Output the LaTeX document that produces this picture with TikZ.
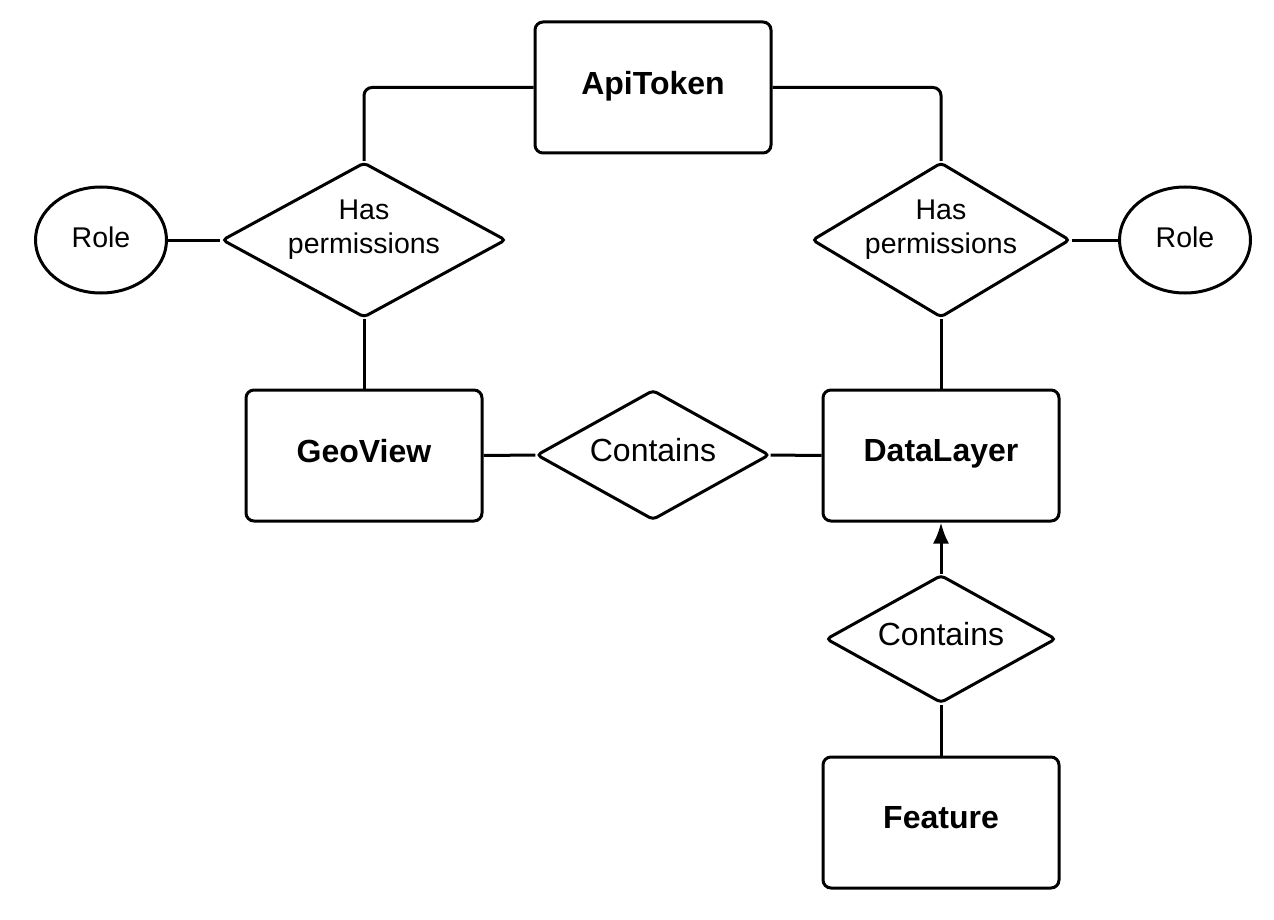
\documentclass[tikz,border=0pt]{standalone}
\usepackage{fontspec}
\setmainfont{Liberation Sans}
\usetikzlibrary{shapes.geometric,arrows.meta}

\tikzset{
	entity/.style={draw, rounded corners=8pt, minimum width=236pt, minimum height=131pt,
		text depth=10pt, font=\fontsize{32}{38}\selectfont\bfseries},
	relation/.style={draw, diamond, rounded corners=4pt, inner sep=0pt, aspect=1.8,
		text depth=10pt, font=\fontsize{32}{38}\selectfont},
	permission/.style={relation, label={[align=center, yshift=10pt,
		font=\fontsize{28.5}{34}\selectfont]center:Has\\permissions}},
	attrib/.style={draw, ellipse, minimum width=131pt, minimum height=106pt, inner sep=0pt,
		text depth=6pt, font=\fontsize{28.5}{34}\selectfont},
}

\begin{document}
\begin{tikzpicture}[x=1pt, y=-1pt, line width=3pt, >={Latex[length=21pt,width=16pt]}]

	\useasboundingbox (0,0) rectangle (1274,920);

	% === ENTITIES === (((
	\node [entity] (api)  at (653,87.5)  {ApiToken};
	\node [entity] (geo)  at (364,455.5) {GeoView};
	\node [entity] (data) at (941,455.5) {DataLayer};
	\node [entity] (feat) at (941,822.5) {Feature};
	% )))

	% === RELATIONS === (((
	\node [permission, minimum width=284pt, minimum height=155pt] (permL) at (364,240) {};
	\node [permission, minimum width=258pt, minimum height=155pt] (permR) at (941,240) {};
	\node [relation, minimum width=233pt, minimum height=130pt] (contM) at (653,455) {Contains};
	\node [relation, minimum width=230pt, minimum height=128pt] (contB) at (941,639) {Contains};
	% )))

	% === ATTRIBUTES === (((
	\node [attrib] (roleL) at (101,240)  {Role};
	\node [attrib] (roleR) at (1185,240) {Role};
	% )))

	% === CONNECTORS === (((
	\draw [rounded corners=8pt] (api.west) -| (permL.north);
	\draw [rounded corners=8pt] (api.east) -| (permR.north);
	\draw (permL) -- (geo);
	\draw (permR) -- (data);
	\draw (roleL) -- (permL);
	\draw (permR) -- (roleR);
	\draw (geo) -- (contM) -- (data);
	\draw [->] (contB) -- (data);
	\draw (feat) -- (contB);
	% )))

\end{tikzpicture}
\end{document}
